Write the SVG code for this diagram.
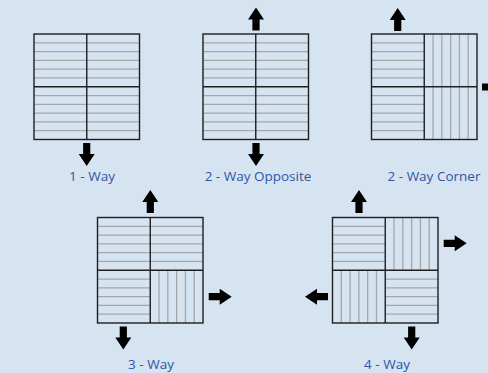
<svg xmlns="http://www.w3.org/2000/svg" xmlns:xlink="http://www.w3.org/1999/xlink" width="488" height="373" viewBox="0 0 488 373">
<style>
.bg{fill:#d6e4f1}
.grid{stroke:#a6a6a6;stroke-width:1.3;fill:none}
.frame{stroke:#1e1e1e;stroke-width:1.4;fill:none}
.arrow{fill:#000}
.label{font-family:"Open Sans","Liberation Sans",sans-serif;font-size:13.5px;fill:#2f55a4;text-anchor:middle}
</style>
<defs>
<g id="qh" class="grid">
<line x1="0" y1="8.79" x2="52.75" y2="8.79"/>
<line x1="0" y1="17.58" x2="52.75" y2="17.58"/>
<line x1="0" y1="26.37" x2="52.75" y2="26.37"/>
<line x1="0" y1="35.17" x2="52.75" y2="35.17"/>
<line x1="0" y1="43.96" x2="52.75" y2="43.96"/>
</g>
<g id="qv" class="grid">
<line y1="0" x1="8.79" y2="52.75" x2="8.79"/>
<line y1="0" x1="17.58" y2="52.75" x2="17.58"/>
<line y1="0" x1="26.37" y2="52.75" x2="26.37"/>
<line y1="0" x1="35.17" y2="52.75" x2="35.17"/>
<line y1="0" x1="43.96" y2="52.75" x2="43.96"/>
</g>
<g id="frame" class="frame">
<rect x="0" y="0" width="105.5" height="105.5"/>
<line x1="52.75" y1="0" x2="52.75" y2="105.5"/>
<line x1="0" y1="52.75" x2="105.5" y2="52.75"/>
</g>
<path id="arr" d="M0,0 L8,12 L3.6,12 L3.6,23 L-3.6,23 L-3.6,12 L-8,12 Z"/>
</defs>
<rect class="bg" x="0" y="0" width="488" height="373"/>

<g id="node-1way" transform="translate(34,34)">
<use href="#qh" x="0" y="0"/><use href="#qh" x="52.75" y="0"/>
<use href="#qh" x="0" y="52.75"/><use href="#qh" x="52.75" y="52.75"/>
<use href="#frame"/>
<text class="label" x="58" y="147">1 - Way</text>
</g>

<g id="node-2way-opposite" transform="translate(203,34)">
<use href="#qh" x="0" y="0"/><use href="#qh" x="52.75" y="0"/>
<use href="#qh" x="0" y="52.75"/><use href="#qh" x="52.75" y="52.75"/>
<use href="#frame"/>
<text class="label" x="55" y="147">2 - Way Opposite</text>
</g>

<g id="node-2way-corner" transform="translate(371.5,34)">
<use href="#qh" x="0" y="0"/><use href="#qv" x="52.75" y="0"/>
<use href="#qh" x="0" y="52.75"/><use href="#qv" x="52.75" y="52.75"/>
<use href="#frame"/>
<text class="label" x="62.5" y="147">2 - Way Corner</text>
</g>

<g id="node-3way" transform="translate(97.5,217.5)">
<use href="#qh" x="0" y="0"/><use href="#qh" x="52.75" y="0"/>
<use href="#qh" x="0" y="52.75"/><use href="#qv" x="52.75" y="52.75"/>
<use href="#frame"/>
<text class="label" x="53.5" y="151.5">3 - Way</text>
</g>

<g id="node-4way" transform="translate(332.5,217.5)">
<use href="#qh" x="0" y="0"/><use href="#qv" x="52.75" y="0"/>
<use href="#qv" x="0" y="52.75"/><use href="#qh" x="52.75" y="52.75"/>
<use href="#frame"/>
<text class="label" x="54.5" y="151.5">4 - Way</text>
</g>

<g id="connectors" class="arrow">
<use href="#arr" transform="translate(86.7,166) rotate(180)"/>
<use href="#arr" transform="translate(256,7.5)"/>
<use href="#arr" transform="translate(256,166) rotate(180)"/>
<use href="#arr" transform="translate(397.7,8)"/>
<use href="#arr" transform="translate(505,87) rotate(90)"/>
<use href="#arr" transform="translate(150.3,190)"/>
<use href="#arr" transform="translate(231.7,296.7) rotate(90)"/>
<use href="#arr" transform="translate(123.3,349.5) rotate(180)"/>
<use href="#arr" transform="translate(359,190)"/>
<use href="#arr" transform="translate(466.7,243.3) rotate(90)"/>
<use href="#arr" transform="translate(305,296.7) rotate(-90)"/>
<use href="#arr" transform="translate(411.7,349.5) rotate(180)"/>
</g>
</svg>
